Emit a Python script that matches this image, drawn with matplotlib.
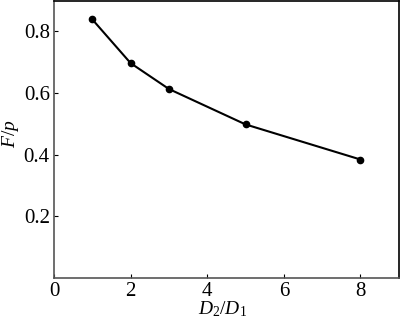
import matplotlib
matplotlib.use("Agg")
import matplotlib.pyplot as plt

plt.rcParams['font.family'] = ['Liberation Serif', 'DejaVu Serif']
plt.rcParams['mathtext.fontset'] = 'custom'
plt.rcParams['mathtext.rm'] = 'Liberation Serif'
plt.rcParams['mathtext.it'] = 'Liberation Serif:italic'

# data
ratio = [1, 2, 3, 5, 8]
force = [0.839, 0.697, 0.613, 0.498, 0.384]
x_ticks = [0, 2, 4, 6, 8]
y_ticks = [0.2, 0.4, 0.6, 0.8]

fig = plt.figure(figsize=(4, 3.2), dpi=100)
ax = fig.add_axes([0.135, 0.132, 0.862, 0.866])

ax.plot(ratio, force, color='black', lw=1.5, marker='o', ms=4.5)

ax.set_xlim(0, 9)
ax.set_ylim(0, 0.9)
ax.set_xticks(x_ticks)
ax.set_yticks(y_ticks)
ax.set_yticklabels([f"{v:.1f}" for v in y_ticks])
ax.tick_params(direction='in', length=3, labelsize=15, width=0.8, pad=3)

for side in ['left', 'bottom']:
    ax.spines[side].set_color('#555555')
    ax.spines[side].set_linewidth(1.2)
for side in ['right', 'top']:
    ax.spines[side].set_color('black')
    ax.spines[side].set_linewidth(1.2)

ax.set_xlabel(r'$D_2/D_1$', fontsize=14)
ax.set_ylabel(r'$F/p$', fontsize=14)
ax.xaxis.set_label_coords(0.49, -0.113, transform=ax.transAxes)
ax.xaxis.label.set_va('center')
ax.yaxis.set_label_coords(-0.125, 0.52, transform=ax.transAxes)
ax.yaxis.label.set_va('center')

plt.savefig('out.png', dpi=100)
